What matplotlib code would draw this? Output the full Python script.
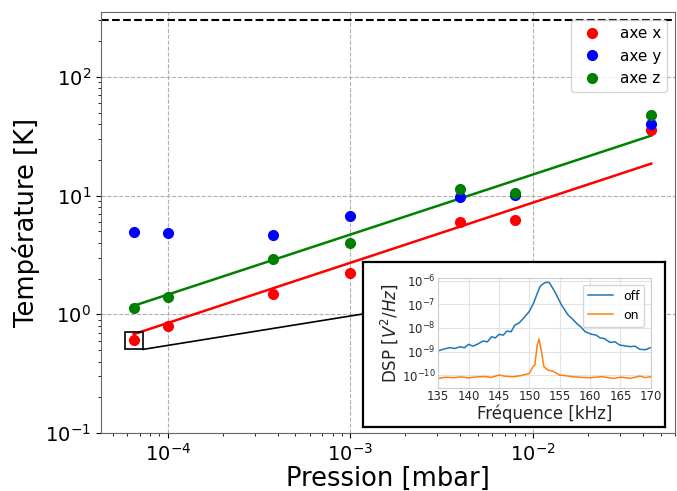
import numpy as np
import matplotlib
matplotlib.use('Agg')
import matplotlib.pyplot as plt
from matplotlib.patches import Rectangle, ConnectionPatch

# main data: temperature per axis vs pressure
pression = [6.5e-5, 1e-4, 3.75e-4, 1e-3, 4e-3, 8e-3, 4.45e-2]
temp_x = [0.61, 0.80, 1.48, 2.24, 5.98, 6.2, 35.8]
temp_y = [4.92, 4.86, 4.67, 6.77, 9.8, 10.1, 40.0]
temp_z = [1.13, 1.41, 2.94, 4.02, 11.3, 10.5, 48.2]

# fit lines (read at the ends of the pressure range)
fit_p = [6.5e-5, 4.45e-2]
fit_x = [0.68, 18.6]
fit_z = [1.18, 32.0]

t_ambiant = 300

# inset spectra
freq_off = [135.0, 135.8, 136.9, 137.7, 138.6, 139.3, 140.0, 140.7, 141.4, 142.4,
            143.1, 143.8, 144.4, 145.0, 145.7, 146.3, 147.0, 147.6, 148.3, 149.0,
            150.0, 150.7, 151.2, 151.75, 152.0, 152.5, 152.9, 153.3, 154.2, 155.3,
            156.4, 157.1, 157.8, 158.5, 159.2, 160.3, 161.0, 161.6, 162.4, 163.3,
            164.1, 164.9, 165.8, 166.6, 167.4, 168.2, 169.1, 170.0]
dsp_off = [1.07e-9, 1.26e-9, 1.48e-9, 1.35e-9, 1.62e-9, 1.45e-9, 2.04e-9, 1.7e-9,
           2.04e-9, 2.82e-9, 2.6e-9, 4.27e-9, 3.8e-9, 5.37e-9, 5.0e-9, 7.41e-9,
           6.9e-9, 1.32e-8, 1.6e-8, 2.51e-8, 5.0e-8, 1.12e-7, 2.45e-7, 5.5e-7,
           6.46e-7, 8.0e-7, 8.5e-7, 8.2e-7, 3.39e-7, 9.3e-8, 3.47e-8, 2.4e-8,
           1.55e-8, 1.1e-8, 6.9e-9, 5.37e-9, 5.0e-9, 3.89e-9, 3.5e-9, 2.45e-9,
           2.6e-9, 1.9e-9, 1.75e-9, 1.62e-9, 1.7e-9, 1.26e-9, 1.2e-9, 1.48e-9]
freq_on = [135.0, 136.2, 137.5, 138.7, 140.0, 141.2, 142.5, 143.7, 145.0, 146.2,
           147.4, 148.7, 150.0, 150.6, 150.9, 151.3, 151.6, 152.0, 152.4, 153.1,
           153.9, 155.0, 156.1, 157.2, 158.6, 160.0, 161.9, 163.8, 165.2, 166.6,
           168.2, 169.1, 170.0]
dsp_on = [7.4e-11, 8.3e-11, 7.9e-11, 8.6e-11, 7.8e-11, 8.5e-11, 8.9e-11, 8.2e-11,
          1.02e-10, 9.0e-11, 8.7e-11, 9.8e-11, 1.2e-10, 2.3e-10, 2.7e-10, 1.9e-9,
          3.4e-9, 1.0e-9, 2.3e-10, 1.66e-10, 1.48e-10, 1.02e-10, 9.5e-11, 8.7e-11,
          8.2e-11, 7.9e-11, 8.8e-11, 7.4e-11, 8.4e-11, 7.4e-11, 9.3e-11, 8.0e-11,
          8.7e-11]

fig = plt.figure(figsize=(6.77, 4.91), dpi=100)
ax = fig.add_axes([0.149, 0.118, 0.848, 0.857])

ax.plot(fit_p, fit_x, color='red', lw=1.8, zorder=2)
ax.plot(fit_p, fit_z, color='green', lw=1.8, zorder=2)
ax.plot(pression, temp_x, 'o', color='red', ms=7, label='axe x', zorder=3)
ax.plot(pression, temp_y, 'o', color='blue', ms=7, label='axe y', zorder=3)
ax.plot(pression, temp_z, 'o', color='green', ms=7, label='axe z', zorder=3)
ax.axhline(t_ambiant, color='k', ls='--', lw=1.5)

ax.set_xscale('log')
ax.set_yscale('log')
ax.set_xlim(4.3e-5, 0.06)
ax.set_ylim(0.1, 350)
ax.grid(True, which='major', ls='--', color='#b0b0b0', lw=0.8)
ax.set_xlabel('Pression [mbar]', fontsize=18.5, labelpad=1)
ax.set_ylabel('Température [K]', fontsize=18.5)
ax.tick_params(labelsize=14)
for s in ax.spines.values():
    s.set_color('#666666')
ax.legend(loc='upper right', fontsize=11)

# zoom box around the first point
ax.add_patch(Rectangle((5.85e-5, 0.506), 7.28e-5 - 5.85e-5, 0.709 - 0.506,
                       fill=False, ec='k', lw=1.2, zorder=4))

# inset frame
frame = fig.add_axes([0.536, 0.1303, 0.446, 0.3361])
frame.set_xticks([])
frame.set_yticks([])
for s in frame.spines.values():
    s.set_color('k')
    s.set_linewidth(1.6)

con = ConnectionPatch(xyA=(7.28e-5, 0.506), coordsA=ax.transData,
                      xyB=(0, 0.685), coordsB=frame.transAxes,
                      color='k', lw=1.2)
fig.add_artist(con)

ins = fig.add_axes([0.6474, 0.2104, 0.3138, 0.2228])
ins.plot(freq_off, dsp_off, color='#1f77b4', lw=1.1, label='off')
ins.plot(freq_on, dsp_on, color='#ff7f0e', lw=1.1, label='on')
ins.set_yscale('log')
ins.set_xlim(135, 170)
ins.set_ylim(3e-11, 1.25e-6)
ins.set_xticks([135, 140, 145, 150, 155, 160, 165, 170])
ins.set_yticks([1e-10, 1e-9, 1e-8, 1e-7, 1e-6])
ins.minorticks_off()
ins.grid(True, color='#e3e3e3', lw=0.8)
ins.tick_params(length=0, labelsize=8.5, colors='#262626', pad=2)
for s in ins.spines.values():
    s.set_color('#cccccc')
ins.set_xlabel('Fréquence [kHz]', fontsize=12, color='#262626', labelpad=1)
ins.set_ylabel('DSP [$V^2/Hz$]', fontsize=12, color='#262626', labelpad=1)
ins.legend(loc='upper right', fontsize=9)

fig.savefig('out.png', dpi=100)
